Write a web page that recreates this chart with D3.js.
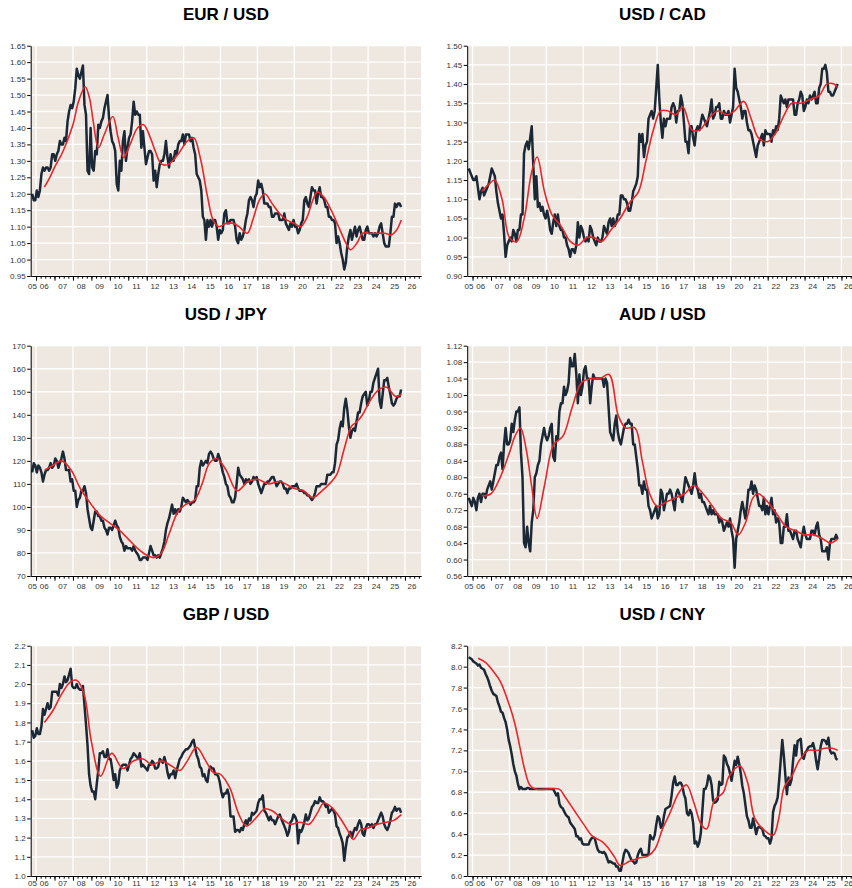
<!DOCTYPE html>
<html>
<head>
<meta charset="utf-8">
<script src="https://cdn.jsdelivr.net/npm/d3@7"></script>
<style>
  body { margin: 0; background: #fff; }
  text { font-family: Arial, "Liberation Sans", sans-serif; }
</style>
</head>
<body>
<div id="chart"></div>
<script>
// monthly spot rates, Oct 2005 .. Oct 2025
var eurusd = [
  1.20,1.18,1.18,
  1.21,1.19,1.21,1.26,1.28,1.27,1.28,1.28,1.27,1.28,1.32,1.32,
  1.30,1.32,1.33,1.36,1.35,1.35,1.37,1.36,1.42,1.45,1.47,1.46,
  1.48,1.52,1.58,1.56,1.55,1.57,1.59,1.47,1.44,1.27,1.26,1.40,
  1.28,1.27,1.33,1.32,1.41,1.40,1.42,1.43,1.46,1.48,1.50,1.43,
  1.39,1.36,1.35,1.33,1.23,1.21,1.30,1.27,1.36,1.39,1.30,1.34,
  1.37,1.38,1.42,1.48,1.44,1.45,1.44,1.44,1.34,1.39,1.34,1.29,
  1.31,1.33,1.33,1.32,1.24,1.27,1.22,1.26,1.29,1.30,1.30,1.32,
  1.36,1.31,1.28,1.32,1.30,1.30,1.33,1.32,1.35,1.36,1.36,1.38,
  1.35,1.38,1.38,1.38,1.36,1.37,1.34,1.32,1.26,1.25,1.24,1.21,
  1.13,1.12,1.06,1.12,1.10,1.12,1.10,1.12,1.12,1.10,1.06,1.09,
  1.08,1.09,1.14,1.15,1.11,1.11,1.12,1.12,1.12,1.10,1.06,1.05,
  1.08,1.06,1.07,1.09,1.12,1.14,1.18,1.19,1.18,1.16,1.19,1.20,
  1.24,1.22,1.23,1.21,1.17,1.17,1.17,1.16,1.16,1.13,1.13,1.14,
  1.14,1.14,1.12,1.12,1.12,1.14,1.11,1.10,1.09,1.11,1.10,1.12,
  1.10,1.10,1.08,1.09,1.11,1.12,1.18,1.19,1.17,1.16,1.19,1.22,
  1.21,1.21,1.17,1.20,1.22,1.19,1.19,1.18,1.16,1.16,1.13,1.13,
  1.12,1.12,1.11,1.05,1.07,1.05,1.02,1.00,0.97,0.99,1.04,1.07,
  1.09,1.06,1.08,1.10,1.07,1.09,1.10,1.08,1.06,1.06,1.09,1.10,
  1.08,1.08,1.08,1.07,1.08,1.07,1.08,1.10,1.11,1.08,1.05,1.04,
  1.04,1.04,1.08,1.13,1.13,1.17,1.16,1.17,1.17,1.16
];
var usdcad = [
  1.18,1.17,1.16,
  1.15,1.15,1.16,1.13,1.10,1.12,1.13,1.11,1.12,1.13,1.14,1.16,
  1.18,1.17,1.16,1.12,1.09,1.07,1.05,1.06,1.01,0.95,0.98,0.99,
  1.00,0.99,1.02,1.01,0.99,1.02,1.02,1.06,1.06,1.22,1.24,1.25,
  1.23,1.26,1.29,1.19,1.10,1.16,1.08,1.09,1.07,1.08,1.06,1.05,
  1.07,1.05,1.02,1.01,1.04,1.06,1.03,1.06,1.03,1.02,1.02,1.00,
  1.00,0.98,0.97,0.95,0.97,0.97,0.96,0.98,1.04,1.00,1.03,1.02,
  1.00,0.99,1.00,0.99,1.03,1.02,1.00,0.99,0.98,1.00,0.99,0.99,
  1.00,1.03,1.02,1.01,1.04,1.05,1.03,1.05,1.03,1.04,1.06,1.06,
  1.11,1.11,1.10,1.10,1.09,1.07,1.07,1.09,1.12,1.13,1.14,1.16,
  1.27,1.25,1.27,1.21,1.24,1.25,1.31,1.32,1.33,1.31,1.33,1.39,
  1.45,1.36,1.30,1.26,1.31,1.29,1.31,1.31,1.31,1.34,1.35,1.34,
  1.30,1.33,1.33,1.37,1.35,1.30,1.25,1.25,1.22,1.29,1.29,1.26,
  1.24,1.28,1.29,1.28,1.30,1.32,1.31,1.30,1.29,1.31,1.33,1.36,
  1.31,1.32,1.34,1.34,1.35,1.31,1.31,1.33,1.32,1.32,1.33,1.30,
  1.32,1.34,1.44,1.39,1.38,1.36,1.34,1.31,1.33,1.33,1.30,1.28,
  1.28,1.27,1.25,1.23,1.21,1.24,1.25,1.26,1.27,1.24,1.28,1.27,
  1.27,1.27,1.25,1.28,1.27,1.29,1.28,1.31,1.37,1.36,1.35,1.36,
  1.34,1.36,1.36,1.36,1.36,1.32,1.32,1.35,1.36,1.38,1.37,1.33,
  1.34,1.36,1.35,1.37,1.36,1.37,1.38,1.35,1.35,1.39,1.40,1.44,
  1.44,1.45,1.43,1.38,1.38,1.37,1.37,1.38,1.39,1.40
];
var usdjpy = [
  115,119,118,
  115,118,117,115,111,114,116,116,117,119,117,118,
  121,120,117,119,121,124,121,116,116,116,111,112,
  107,107,100,103,104,107,107,109,106,99,95,91,
  90,94,98,98,96,96,94,94,91,90,88,91,
  91,90,92,94,92,91,87,85,84,81,83,82,
  82,82,81,83,81,80,79,77,77,78,78,78,
  77,80,83,81,79,79,78,79,78,80,82,85,
  90,93,95,98,101,97,99,97,99,98,100,104,
  103,102,103,102,101,102,102,103,109,109,117,120,
  118,119,120,119,123,124,123,121,120,120,123,121,
  118,115,113,110,109,105,104,102,102,104,110,117,
  114,113,112,110,112,111,112,110,111,113,112,113,
  110,108,106,108,110,110,111,111,112,113,113,111,
  109,110,111,111,110,108,108,106,108,108,109,109,
  109,110,108,107,107,107,106,106,105,105,104,103,
  104,106,109,109,109,110,110,110,110,114,114,114,
  115,115,119,127,129,134,137,135,143,147,142,135,
  130,133,134,133,137,141,141,145,148,149,150,144,
  146,150,150,154,156,158,160,146,143,149,155,155,
  156,152,149,145,144,145,147,148,148,151
];
var audusd = [
  0.75,0.74,0.73,
  0.75,0.74,0.72,0.75,0.76,0.74,0.76,0.76,0.75,0.77,0.78,0.79,
  0.77,0.79,0.81,0.83,0.83,0.85,0.86,0.82,0.88,0.92,0.88,0.88,
  0.89,0.93,0.91,0.94,0.96,0.96,0.97,0.86,0.80,0.64,0.63,0.68,
  0.64,0.62,0.69,0.72,0.80,0.81,0.83,0.84,0.88,0.90,0.92,0.90,
  0.89,0.90,0.92,0.93,0.85,0.84,0.90,0.89,0.96,0.98,0.98,1.02,
  1.00,1.01,1.03,1.09,1.07,1.07,1.10,1.05,0.98,1.05,1.00,1.02,
  1.06,1.07,1.04,1.04,0.98,1.02,1.05,1.04,1.04,1.04,1.04,1.04,
  1.04,1.02,1.04,1.03,0.97,0.91,0.90,0.89,0.93,0.95,0.91,0.89,
  0.88,0.90,0.92,0.93,0.93,0.94,0.93,0.93,0.88,0.88,0.85,0.82,
  0.78,0.78,0.76,0.79,0.77,0.77,0.73,0.72,0.70,0.71,0.72,0.73,
  0.70,0.71,0.77,0.76,0.72,0.74,0.76,0.76,0.77,0.76,0.74,0.72,
  0.76,0.77,0.76,0.75,0.74,0.77,0.80,0.79,0.78,0.77,0.76,0.78,
  0.81,0.78,0.77,0.75,0.76,0.74,0.74,0.73,0.72,0.71,0.73,0.71,
  0.72,0.71,0.71,0.71,0.69,0.70,0.69,0.67,0.68,0.69,0.68,0.70,
  0.67,0.65,0.58,0.65,0.67,0.69,0.72,0.74,0.72,0.70,0.73,0.77,
  0.77,0.79,0.76,0.78,0.77,0.75,0.73,0.73,0.72,0.75,0.71,0.73,
  0.71,0.73,0.75,0.71,0.72,0.69,0.70,0.69,0.64,0.64,0.68,0.68,
  0.71,0.67,0.67,0.66,0.65,0.67,0.67,0.65,0.64,0.63,0.66,0.68,
  0.66,0.65,0.65,0.65,0.67,0.67,0.66,0.68,0.69,0.66,0.65,0.62,
  0.62,0.62,0.63,0.60,0.64,0.65,0.65,0.65,0.66,0.65
];
var gbpusd = [
  1.76,1.72,1.73,
  1.77,1.74,1.74,1.78,1.87,1.84,1.87,1.90,1.87,1.88,1.96,1.96,
  1.96,1.96,1.94,2.00,1.98,2.00,2.04,2.01,2.02,2.05,2.08,1.99,
  1.98,1.98,2.00,1.98,1.97,1.97,1.99,1.89,1.79,1.68,1.53,1.47,
  1.44,1.44,1.40,1.48,1.55,1.64,1.64,1.65,1.62,1.62,1.66,1.61,
  1.61,1.56,1.50,1.53,1.46,1.48,1.55,1.57,1.58,1.58,1.58,1.55,
  1.58,1.61,1.62,1.64,1.63,1.62,1.61,1.64,1.57,1.58,1.57,1.56,
  1.55,1.58,1.58,1.60,1.59,1.56,1.56,1.57,1.61,1.60,1.59,1.62,
  1.59,1.54,1.51,1.53,1.53,1.55,1.51,1.55,1.58,1.61,1.62,1.64,
  1.65,1.66,1.66,1.67,1.68,1.70,1.71,1.67,1.63,1.61,1.57,1.56,
  1.52,1.53,1.50,1.49,1.55,1.57,1.56,1.56,1.53,1.53,1.52,1.49,
  1.44,1.41,1.43,1.43,1.45,1.42,1.31,1.31,1.31,1.23,1.24,1.24,
  1.23,1.25,1.24,1.27,1.29,1.27,1.30,1.29,1.33,1.32,1.33,1.34,
  1.38,1.40,1.40,1.42,1.34,1.33,1.31,1.29,1.31,1.29,1.29,1.27,
  1.29,1.31,1.32,1.30,1.28,1.26,1.24,1.21,1.23,1.28,1.29,1.32,
  1.31,1.29,1.17,1.24,1.23,1.25,1.28,1.32,1.29,1.30,1.33,1.36,
  1.37,1.39,1.38,1.38,1.41,1.39,1.39,1.38,1.36,1.37,1.33,1.34,
  1.35,1.34,1.32,1.26,1.25,1.22,1.20,1.17,1.08,1.15,1.20,1.21,
  1.23,1.20,1.23,1.25,1.24,1.27,1.29,1.27,1.22,1.21,1.25,1.27,
  1.27,1.26,1.27,1.25,1.27,1.27,1.29,1.31,1.33,1.31,1.27,1.25,
  1.24,1.26,1.29,1.33,1.34,1.36,1.34,1.35,1.35,1.33
];
var usdcny = [
  8.09,8.08,8.07,
  8.05,8.04,8.03,8.01,8.02,7.99,7.98,7.97,7.93,7.90,7.86,7.81,
  7.77,7.74,7.73,7.72,7.66,7.62,7.57,7.56,7.51,7.47,7.40,7.30,
  7.24,7.16,7.07,7.00,6.96,6.88,6.83,6.85,6.83,6.83,6.83,6.84,
  6.84,6.83,6.83,6.83,6.83,6.83,6.83,6.83,6.83,6.83,6.83,6.83,
  6.83,6.83,6.83,6.83,6.83,6.80,6.77,6.79,6.69,6.66,6.65,6.62,
  6.59,6.57,6.56,6.51,6.49,6.47,6.45,6.38,6.38,6.35,6.36,6.31,
  6.30,6.30,6.30,6.30,6.34,6.36,6.37,6.36,6.30,6.25,6.23,6.23,
  6.22,6.23,6.21,6.17,6.13,6.14,6.13,6.12,6.12,6.09,6.09,6.05,
  6.05,6.13,6.21,6.25,6.24,6.22,6.18,6.15,6.14,6.12,6.13,6.20,
  6.24,6.26,6.20,6.20,6.20,6.20,6.21,6.39,6.36,6.35,6.39,6.49,
  6.57,6.55,6.46,6.48,6.57,6.64,6.65,6.66,6.67,6.77,6.89,6.95,
  6.87,6.87,6.89,6.89,6.86,6.78,6.74,6.60,6.58,6.63,6.60,6.51,
  6.31,6.33,6.28,6.32,6.41,6.62,6.83,6.83,6.87,6.96,6.94,6.87,
  6.72,6.70,6.71,6.73,6.90,6.87,6.88,7.15,7.13,7.07,7.04,6.98,
  6.91,7.00,7.10,7.06,7.14,7.07,6.98,6.86,6.79,6.68,6.57,6.53,
  6.46,6.46,6.55,6.48,6.40,6.46,6.47,6.46,6.45,6.39,6.38,6.36,
  6.36,6.31,6.36,6.61,6.67,6.70,6.75,6.92,7.11,7.30,7.15,6.96,
  6.78,6.94,6.87,6.92,7.10,7.25,7.15,7.29,7.30,7.31,7.14,7.12,
  7.18,7.20,7.23,7.24,7.24,7.27,7.21,7.10,7.02,7.12,7.24,7.30,
  7.30,7.29,7.26,7.32,7.20,7.17,7.18,7.17,7.12,7.11
];

// moving averages (red), [year, value]
var eurusdMa = [[2006.45,1.22],[2006.75,1.25],[2007.0,1.28],[2007.47,1.33],[2008.0,1.41],[2008.3,1.48],[2008.66,1.525],[2008.9,1.49],[2009.1,1.42],[2009.38,1.34],[2009.7,1.38],[2010.16,1.435],[2010.45,1.37],[2010.75,1.31],[2011.1,1.35],[2011.5,1.40],[2011.83,1.41],[2012.2,1.37],[2012.46,1.33],[2012.8,1.29],[2013.2,1.29],[2013.7,1.32],[2014.2,1.36],[2014.55,1.37],[2014.9,1.31],[2015.3,1.19],[2015.6,1.12],[2015.9,1.10],[2016.3,1.11],[2016.7,1.11],[2017.0,1.10],[2017.45,1.08],[2017.75,1.12],[2018.1,1.18],[2018.4,1.20],[2018.8,1.17],[2019.2,1.14],[2019.6,1.12],[2020.0,1.11],[2020.35,1.10],[2020.7,1.13],[2021.0,1.18],[2021.25,1.205],[2021.6,1.19],[2022.0,1.15],[2022.4,1.10],[2022.8,1.05],[2023.05,1.03],[2023.4,1.05],[2023.7,1.08],[2024.1,1.08],[2024.5,1.08],[2024.9,1.08],[2025.25,1.075],[2025.55,1.09],[2025.8,1.12]];
var usdcadMa = [[2006.5,1.12],[2006.9,1.14],[2007.2,1.15],[2007.6,1.10],[2008.0,1.00],[2008.4,0.99],[2008.8,1.05],[2009.2,1.17],[2009.5,1.21],[2009.9,1.12],[2010.3,1.06],[2010.8,1.03],[2011.3,0.99],[2011.7,0.98],[2012.2,1.00],[2012.6,1.00],[2013.0,0.99],[2013.5,1.02],[2014.0,1.05],[2014.5,1.09],[2015.0,1.12],[2015.4,1.20],[2015.8,1.28],[2016.2,1.33],[2016.6,1.33],[2017.0,1.32],[2017.4,1.34],[2017.9,1.28],[2018.3,1.28],[2018.8,1.31],[2019.3,1.33],[2019.8,1.32],[2020.2,1.33],[2020.7,1.355],[2021.1,1.31],[2021.5,1.26],[2022.0,1.25],[2022.4,1.27],[2022.9,1.32],[2023.3,1.35],[2023.8,1.35],[2024.3,1.36],[2024.8,1.37],[2025.2,1.40],[2025.6,1.40],[2025.8,1.39]];
var usdjpyMa = [[2006.47,116],[2006.9,118],[2007.4,120],[2007.9,116],[2008.4,108],[2009.0,101],[2009.5,96],[2010.0,93],[2010.5,90],[2011.0,86],[2011.5,82],[2012.0,79],[2012.4,78],[2012.8,80],[2013.2,88],[2013.7,98],[2014.1,101],[2014.6,103],[2015.0,110],[2015.4,119],[2015.8,121],[2016.3,116],[2016.9,107],[2017.5,111],[2018.0,112],[2018.6,110],[2019.2,111],[2020.0,108],[2020.5,107],[2021.0,104],[2021.5,107],[2021.9,110],[2022.3,114],[2022.7,125],[2023.1,135],[2023.4,137],[2023.7,140],[2024.1,146],[2024.6,151],[2025.0,152],[2025.5,148],[2025.8,149]];
var audusdMa = [[2006.5,0.755],[2007.0,0.76],[2007.5,0.80],[2008.0,0.86],[2008.3,0.90],[2008.6,0.92],[2008.9,0.87],[2009.2,0.78],[2009.5,0.70],[2009.9,0.78],[2010.4,0.88],[2010.9,0.90],[2011.4,0.97],[2011.9,1.03],[2012.4,1.04],[2012.9,1.04],[2013.4,1.05],[2013.9,0.95],[2014.3,0.92],[2014.8,0.92],[2015.2,0.84],[2015.6,0.76],[2016.0,0.73],[2016.5,0.74],[2017.0,0.75],[2017.5,0.76],[2018.0,0.78],[2018.5,0.76],[2019.0,0.73],[2019.5,0.70],[2020.0,0.69],[2020.4,0.66],[2020.8,0.69],[2021.2,0.75],[2021.5,0.76],[2022.0,0.74],[2022.5,0.71],[2023.0,0.68],[2023.5,0.67],[2024.0,0.66],[2024.5,0.66],[2025.0,0.65],[2025.4,0.64],[2025.8,0.65]];
var gbpusdMa = [[2006.45,1.80],[2006.9,1.86],[2007.4,1.95],[2007.85,2.01],[2008.2,2.02],[2008.6,1.95],[2009.0,1.70],[2009.5,1.52],[2010.1,1.64],[2010.7,1.56],[2011.3,1.60],[2011.8,1.61],[2012.3,1.58],[2012.8,1.60],[2013.4,1.57],[2013.8,1.55],[2014.2,1.60],[2014.7,1.67],[2015.2,1.60],[2015.6,1.54],[2016.0,1.53],[2016.5,1.46],[2017.0,1.32],[2017.4,1.26],[2017.9,1.30],[2018.4,1.35],[2018.8,1.34],[2019.3,1.30],[2019.8,1.27],[2020.3,1.28],[2020.8,1.27],[2021.2,1.32],[2021.6,1.38],[2022.0,1.36],[2022.5,1.30],[2023.0,1.22],[2023.2,1.19],[2023.6,1.24],[2024.0,1.25],[2024.5,1.27],[2025.0,1.28],[2025.4,1.29],[2025.8,1.32]];
var usdcnyMa = [[2006.3,8.08],[2006.7,8.04],[2007.1,7.96],[2007.5,7.86],[2008.0,7.63],[2008.3,7.45],[2008.85,7.00],[2009.1,6.87],[2009.4,6.83],[2010.0,6.83],[2010.7,6.83],[2011.0,6.76],[2011.5,6.63],[2012.0,6.50],[2012.5,6.38],[2013.0,6.33],[2013.3,6.28],[2013.7,6.18],[2014.0,6.10],[2014.5,6.14],[2015.0,6.17],[2015.5,6.19],[2015.9,6.26],[2016.3,6.45],[2016.7,6.60],[2017.2,6.80],[2017.6,6.87],[2018.0,6.70],[2018.4,6.49],[2018.7,6.45],[2019.1,6.72],[2019.6,6.80],[2019.9,6.95],[2020.5,7.05],[2020.9,6.90],[2021.3,6.55],[2021.8,6.44],[2022.3,6.39],[2022.6,6.55],[2022.9,6.85],[2023.3,6.95],[2023.7,7.10],[2024.2,7.20],[2024.7,7.20],[2025.1,7.22],[2025.5,7.22],[2025.8,7.20]];

// y tick labels per panel
var eurTicks = [0.95,1.00,1.05,1.10,1.15,1.20,1.25,1.30,1.35,1.40,1.45,1.50,1.55,1.60,1.65];
var cadTicks = [0.90,0.95,1.00,1.05,1.10,1.15,1.20,1.25,1.30,1.35,1.40,1.45,1.50];
var jpyTicks = [70,80,90,100,110,120,130,140,150,160,170];
var audTicks = [0.56,0.60,0.64,0.68,0.72,0.76,0.80,0.84,0.88,0.92,0.96,1.00,1.04,1.08,1.12];
var gbpTicks = [1.0,1.1,1.2,1.3,1.4,1.5,1.6,1.7,1.8,1.9,2.0,2.1,2.2];
var cnyTicks = [6.0,6.2,6.4,6.6,6.8,7.0,7.2,7.4,7.6,7.8,8.0,8.2];
var yearLabels = ["05","06","07","08","09","10","11","12","13","14","15","16","17","18","19","20","21","22","23","24","25","26"];
var titles = ["EUR / USD","USD / CAD","USD / JPY","AUD / USD","GBP / USD","USD / CNY"];

var panels = [
    {title: titles[0], spot: eurusd, ma: eurusdMa, ticks: eurTicks, fmt: ".2f"},
    {title: titles[1], spot: usdcad, ma: usdcadMa, ticks: cadTicks, fmt: ".2f"},
    {title: titles[2], spot: usdjpy, ma: usdjpyMa, ticks: jpyTicks, fmt: "d"},
    {title: titles[3], spot: audusd, ma: audusdMa, ticks: audTicks, fmt: ".2f"},
    {title: titles[4], spot: gbpusd, ma: gbpusdMa, ticks: gbpTicks, fmt: ".1f"},
    {title: titles[5], spot: usdcny, ma: usdcnyMa, ticks: cnyTicks, fmt: ".1f"}
];

var spotStart = 2005 + 9.5 / 12; // mid Oct 2005

var width = 852, height = 888;
var col0 = 30.7, colStep = 436.5, top0 = 45.7, rowStep = 300;
var plotW = 390.5, plotH = 230.3;

var svg = d3.select("#chart")
    .append("svg")
    .attr("width", width)
    .attr("height", height);

var x = d3.scaleLinear().domain([2005.71, 2026.88]).range([0, plotW]);

var quarters = d3.range(2006, 2027, 0.25).filter(function(t) { return t <= 2026.88; });
var evenYears = d3.range(2006, 2027, 2);

panels.forEach(function(p, i) {
    var col = i % 2, row = Math.floor(i / 2);
    var gy = top0 + row * rowStep;
    var g = svg.append("g")
        .attr("transform", "translate(" + (col0 + col * colStep) + "," + gy + ")");

    var y = d3.scaleLinear().domain(d3.extent(p.ticks)).range([plotH, 0]);

    g.append("text")
        .attr("x", plotW / 2)
        .attr("y", -25.7)
        .attr("text-anchor", "middle")
        .style("font-size", "17px")
        .style("font-weight", "bold")
        .attr("fill", "#000")
        .text(p.title);

    g.append("rect")
        .attr("x", 0).attr("y", 0)
        .attr("width", plotW).attr("height", plotH)
        .attr("fill", "#eee8e0");

    // grid
    g.selectAll(".hgrid")
        .data(p.ticks)
        .enter().append("line")
        .attr("x1", 0).attr("x2", plotW)
        .attr("y1", function(d) { return y(d); })
        .attr("y2", function(d) { return y(d); })
        .attr("stroke", "#fff").attr("stroke-width", 1.3);

    g.selectAll(".vgrid")
        .data(evenYears)
        .enter().append("line")
        .attr("x1", function(d) { return x(d); })
        .attr("x2", function(d) { return x(d); })
        .attr("y1", 0).attr("y2", plotH)
        .attr("stroke", "#fff").attr("stroke-width", 1.3);

    g.append("clipPath").attr("id", "clip" + i)
        .append("rect").attr("width", plotW).attr("height", plotH);

    var spotLine = d3.line()
        .x(function(d, k) { return x(spotStart + k / 12); })
        .y(function(d) { return y(d); });

    var maLine = d3.line()
        .curve(d3.curveCatmullRom.alpha(0.5))
        .x(function(d) { return x(d[0]); })
        .y(function(d) { return y(d[1]); });

    g.append("path")
        .datum(p.spot)
        .attr("clip-path", "url(#clip" + i + ")")
        .attr("d", spotLine)
        .attr("fill", "none")
        .attr("stroke", "#1b2836")
        .attr("stroke-width", 2.5)
        .attr("stroke-linejoin", "round");

    g.append("path")
        .datum(p.ma)
        .attr("clip-path", "url(#clip" + i + ")")
        .attr("d", maLine)
        .attr("fill", "none")
        .attr("stroke", "#e8262d")
        .attr("stroke-width", 1.6);

    // y axis
    var yAxis = g.append("g")
        .call(d3.axisLeft(y).tickValues(p.ticks).tickSize(3.5).tickSizeOuter(0).tickPadding(1.5)
            .tickFormat(d3.format(p.fmt)));
    yAxis.selectAll("text").style("font-size", "8px").attr("fill", "#333");
    yAxis.select(".domain").attr("stroke", "#000");

    // x axis: quarter + year ticks, labels mid-year
    var xq = g.append("g").attr("transform", "translate(0," + plotH + ")")
        .call(d3.axisBottom(x).tickValues(quarters).tickSize(2.7).tickSizeOuter(0).tickFormat(""));
    xq.select(".domain").attr("stroke", "#000");
    g.append("g").attr("transform", "translate(0," + plotH + ")")
        .call(d3.axisBottom(x).tickValues(d3.range(2006, 2027)).tickSize(4.7).tickFormat(""))
        .select(".domain").remove();

    // keep the bottom row's labels inside the picture
    var labY = Math.min(plotH + 13.5, height - 1.8 - gy);
    g.selectAll(".ylab")
        .data(yearLabels)
        .enter().append("text")
        .attr("x", function(d) {
            var yr = 2000 + (+d);
            var a = Math.max(yr, x.domain()[0]), b = Math.min(yr + 1, x.domain()[1]);
            return x((a + b) / 2) - 1;
        })
        .attr("y", labY)
        .attr("text-anchor", "middle")
        .style("font-size", "8px")
        .attr("fill", "#333")
        .text(function(d) { return d; });
});
</script>
</body>
</html>
